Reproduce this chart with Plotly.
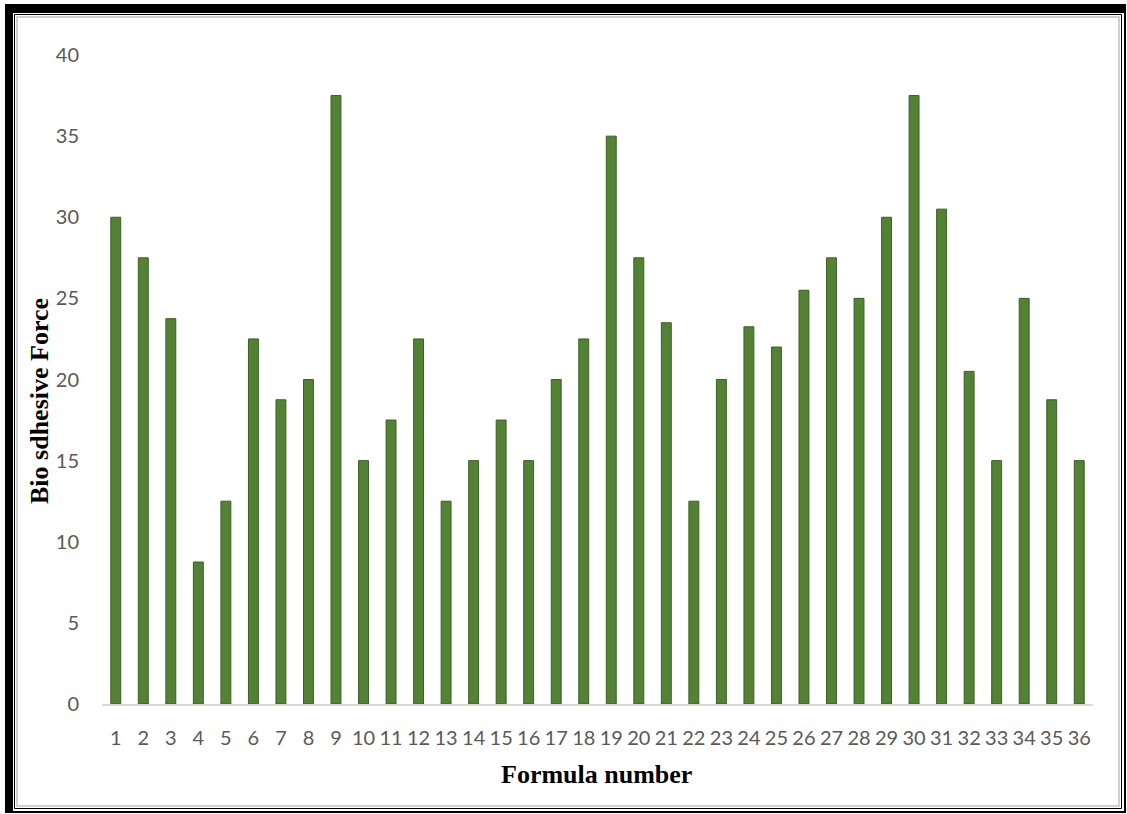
import plotly.graph_objects as go

# Bio-adhesive force measured for each formula
formula_numbers = [str(i) for i in range(1, 37)]
bio_adhesive_force = [
    30, 27.5, 23.75, 8.75, 12.5, 22.5, 18.75, 20, 37.5, 15,
    17.5, 22.5, 12.5, 15, 17.5, 15, 20, 22.5, 35, 27.5,
    23.5, 12.5, 20, 23.25, 22, 25.5, 27.5, 25, 30, 37.5,
    30.5, 20.5, 15, 25, 18.75, 15,
]
y_ticks = [0, 5, 10, 15, 20, 25, 30, 35, 40]

W, H = 1127, 814
L, R, T, B = 102, 34, 55, 110
PW, PH = W - L - R, H - T - B


def px_x(v):
    return (v - L) / PW


def px_y(v):
    return (H - B - v) / PH


fig = go.Figure(
    go.Bar(
        x=formula_numbers,
        y=bio_adhesive_force,
        marker=dict(color="#548235", line=dict(color="#3b5f25", width=1)),
    )
)


def rect(x0, y0, x1, y1, **kw):
    return dict(type="rect", xref="paper", yref="paper",
                x0=px_x(x0), x1=px_x(x1), y0=px_y(y0), y1=px_y(y1),
                layer="below", **kw)


shapes = [
    # heavy outer frame (thick top/left, thin bottom/right)
    rect(5, 4, 1126, 813, fillcolor="black", line=dict(width=0)),
    rect(13, 13, 1124, 811, fillcolor="white", line=dict(width=0)),
    # thin inner black rule
    rect(14.5, 14.5, 1121.5, 808.5, line=dict(color="black", width=1)),
    # light grey chart-area border
    rect(17, 17, 1119, 806, line=dict(color="#d0d0d0", width=2)),
]

tick_font = dict(family="Lato, Open Sans, sans-serif", size=20, color="#595959")
title_font = dict(family="Liberation Serif, Times New Roman, serif", size=26, color="black")

fig.update_layout(
    width=W,
    height=H,
    margin=dict(l=L, r=R, t=T, b=B, autoexpand=False),
    paper_bgcolor="white",
    plot_bgcolor="rgba(0,0,0,0)",
    bargap=0.64,
    showlegend=False,
    shapes=shapes,
    xaxis=dict(
        type="category",
        showline=True,
        linecolor="#d9d9d9",
        linewidth=1.5,
        showgrid=False,
        ticks="",
        tickfont=tick_font,
        ticklabelstandoff=15,
        automargin=False,
    ),
    yaxis=dict(
        range=[0, 40],
        tickvals=y_ticks,
        showgrid=False,
        zeroline=False,
        showline=False,
        ticks="",
        tickfont=tick_font,
        ticklabelstandoff=22,
        automargin=False,
    ),
    annotations=[
        dict(text="<b>Formula number</b>", xref="paper", yref="paper",
             x=px_x(596), y=px_y(774), showarrow=False,
             xanchor="center", yanchor="middle", font=title_font),
        dict(text="<b>Bio sdhesive Force</b>", xref="paper", yref="paper",
             x=px_x(39), y=px_y(401), showarrow=False, textangle=-90,
             xanchor="center", yanchor="middle", font=title_font),
    ],
)

fig.write_html("out.html")
